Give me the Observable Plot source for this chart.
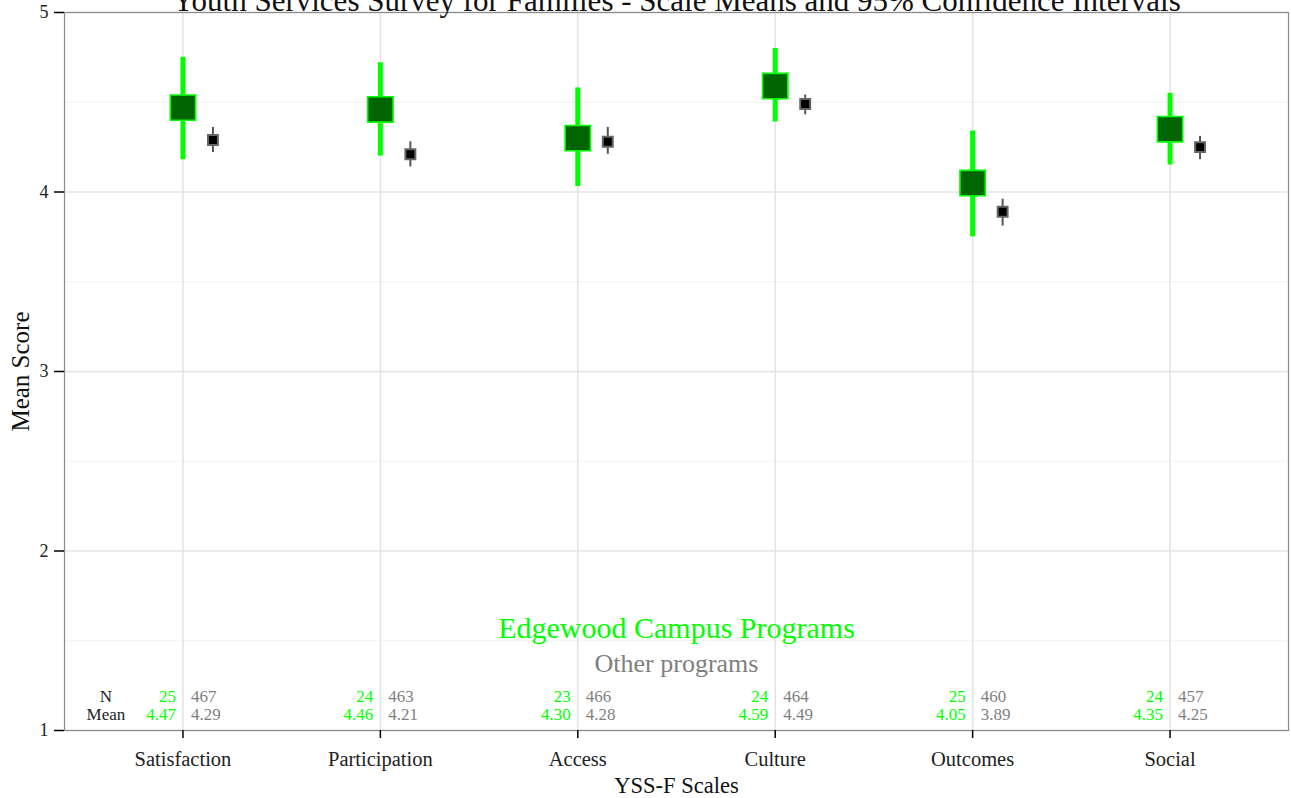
<!DOCTYPE html>
<html>
<head>
<meta charset="utf-8">
<script src="https://cdn.jsdelivr.net/npm/d3@7"></script>
<script src="https://cdn.jsdelivr.net/npm/@observablehq/plot@0.6"></script>
<style>
  html, body { margin: 0; padding: 0; background: #fff; }
  svg { display: block; }
</style>
</head>
<body>
<div id="chart"></div>
<script>
const scales = ["Satisfaction", "Participation", "Access", "Culture", "Outcomes", "Social"];
const edgeMean = [4.47, 4.46, 4.30, 4.59, 4.05, 4.35];
const edgeLo   = [4.18, 4.20, 4.03, 4.39, 3.75, 4.15];
const edgeHi   = [4.75, 4.72, 4.58, 4.80, 4.34, 4.55];
const edgeN    = [25, 24, 23, 24, 25, 24];
const otherMean = [4.29, 4.21, 4.28, 4.49, 3.89, 4.25];
const otherLo   = [4.22, 4.14, 4.21, 4.43, 3.81, 4.18];
const otherHi   = [4.36, 4.28, 4.36, 4.54, 3.96, 4.31];
const otherN    = [467, 463, 466, 464, 460, 457];
const yTicks = [1, 2, 3, 4, 5];
const yMinor = [1.5, 2.5, 3.5, 4.5];
const rowLabels = ["N", "Mean"];
const rowY = [1.19, 1.09];

const titleText = "Youth Services Survey for Families - Scale Means and 95% Confidence Intervals";
const serif = "'Liberation Serif', 'DejaVu Serif', serif";

const edge = scales.map((s, i) => ({scale: s, mean: edgeMean[i], lo: edgeLo[i], hi: edgeHi[i], n: edgeN[i]}));
const other = scales.map((s, i) => ({scale: s, mean: otherMean[i], lo: otherLo[i], hi: otherHi[i], n: otherN[i]}));

const GREEN = "#00ff00", DARK = "#006400", GRAY = "#7f7f7f";
const OFF = 30;

const plot = Plot.plot({
  width: 1291,
  height: 798,
  marginLeft: 64,
  marginRight: 3,
  marginTop: 12,
  marginBottom: 68,
  style: {fontFamily: serif, background: "#fff", overflow: "hidden"},
  x: {type: "point", domain: scales, padding: 0.6, round: false},
  y: {domain: [1, 5]},
  marks: [
    Plot.gridY(yMinor, {stroke: "#f2f2f2", strokeOpacity: 1}),
    Plot.gridY(yTicks, {stroke: "#e3e3e3", strokeOpacity: 1, strokeWidth: 1.3}),
    Plot.gridX(scales, {stroke: "#e3e3e3", strokeOpacity: 1, strokeWidth: 1.5}),
    Plot.frame({stroke: "#8a8a8a", strokeWidth: 1.2}),
    // Edgewood
    Plot.ruleX(edge, {x: "scale", y1: "lo", y2: "hi", stroke: GREEN, strokeWidth: 5}),
    Plot.dot(edge, {x: "scale", y: "mean", symbol: "square", r: 14.3, fill: DARK, stroke: GREEN, strokeWidth: 1.6}),
    // Others
    Plot.ruleX(other, {x: "scale", y1: "lo", y2: "hi", dx: OFF, stroke: "#555", strokeWidth: 2}),
    Plot.dot(other, {x: "scale", y: "mean", dx: OFF, symbol: "square", r: 5.6, fill: "#000", stroke: "#666", strokeWidth: 2}),
    // N / Mean table
    Plot.text(rowLabels, {x: () => scales[0], y: (d, i) => rowY[i], text: d => d, dx: -77, fontSize: 17, fill: "#222", textAnchor: "middle"}),
    Plot.text(edge, {x: "scale", y: () => rowY[0], text: d => String(d.n), dx: -7, textAnchor: "end", fontSize: 17, fill: GREEN}),
    Plot.text(edge, {x: "scale", y: () => rowY[1], text: d => d.mean.toFixed(2), dx: -7, textAnchor: "end", fontSize: 17, fill: GREEN}),
    Plot.text(other, {x: "scale", y: () => rowY[0], text: d => String(d.n), dx: 8, textAnchor: "start", fontSize: 17, fill: GRAY}),
    Plot.text(other, {x: "scale", y: () => rowY[1], text: d => d.mean.toFixed(2), dx: 8, textAnchor: "start", fontSize: 17, fill: GRAY}),
    // legend-like annotations
    Plot.text(["Edgewood Campus Programs"], {frameAnchor: "bottom", lineAnchor: "middle", dy: -102, fontSize: 30, fill: GREEN}),
    Plot.text(["Other programs"], {frameAnchor: "bottom", lineAnchor: "middle", dy: -67, fontSize: 26, fill: GRAY}),
    // axes
    Plot.axisY(yTicks, {tickSize: 10, tickPadding: 6, fontSize: 18, fill: "#222", label: null, strokeWidth: 1.5, tickFormat: d => String(d)}),
    Plot.axisX({tickSize: 8, tickPadding: 13, fontSize: 20.5, fill: "#222", label: null, strokeWidth: 1.5}),
    Plot.text(["YSS-F Scales"], {frameAnchor: "bottom", lineAnchor: "middle", dy: 55, fontSize: 22.5, fill: "#111"}),
    Plot.text(["Mean Score"], {frameAnchor: "left", dx: -44, rotate: -90, textAnchor: "middle", fontSize: 25, fill: "#111"}),
    Plot.text([titleText], {frameAnchor: "top", dy: -24, fontSize: 31, fill: "#111"})
  ]
});
document.getElementById("chart").appendChild(plot);
</script>
</body>
</html>
